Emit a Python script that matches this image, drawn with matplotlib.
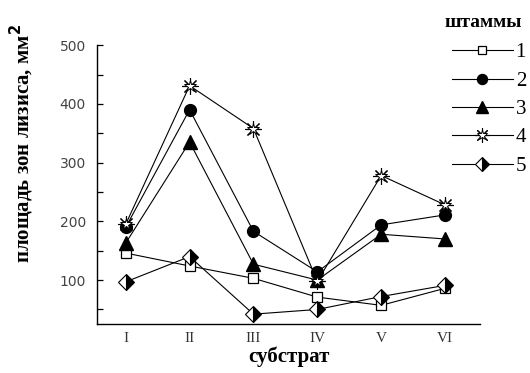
import matplotlib
matplotlib.use('Agg')
import matplotlib.pyplot as plt
from matplotlib.ticker import MultipleLocator
from matplotlib.legend_handler import HandlerTuple

substrates = ['I', 'II', 'III', 'IV', 'V', 'VI']
strains = ['1', '2', '3', '4', '5']

s1 = [146, 124, 103, 71, 57, 86]
s2 = [190, 390, 183, 114, 194, 211]
s3 = [163, 335, 127, 100, 178, 170]
s4 = [195, 431, 358, 98, 278, 228]
s5 = [97, 140, 42, 50, 72, 91]

x = list(range(1, len(substrates) + 1))

fig = plt.figure(figsize=(5.3, 3.73), dpi=100)
ax = fig.add_axes([0.183, 0.131, 0.723, 0.748])

lw = 0.8
h1, = ax.plot(x, s1, '-', color='black', lw=lw, marker='s', ms=7, mfc='white', mec='black', mew=0.9)
h2, = ax.plot(x, s2, '-', color='black', lw=lw, marker='o', ms=8.5, mfc='black', mec='black')
h3, = ax.plot(x, s3, '-', color='black', lw=lw, marker='^', ms=9.5, mfc='black', mec='black')
h4a, = ax.plot(x, s4, '-', color='black', lw=lw, marker=(8, 2, 0), ms=12, mec='black', mew=0.8)
h4b, = ax.plot(x, s4, ls='none', marker='*', ms=9, mfc='white', mec='black', mew=0.7)
h5, = ax.plot(x, s5, '-', color='black', lw=lw, marker='D', ms=8, fillstyle='right',
              mfc='black', mfcalt='white', mec='black', mew=0.8)

ax.set_xlim(0.55, 6.55)
ax.set_ylim(25, 500)
ax.set_xticks(x)
ax.set_xticklabels(substrates, family='Liberation Serif', fontsize=11, color='#333333')
ax.set_yticks([100, 200, 300, 400, 500])
ax.yaxis.set_minor_locator(MultipleLocator(50))
for lab in ax.get_yticklabels():
    lab.set_fontsize(10)
    lab.set_color('#444444')
ax.tick_params(axis='y', which='both', direction='in', length=4, width=0.9, pad=8)
ax.tick_params(axis='x', length=0, pad=6)
ax.spines['top'].set_visible(False)
ax.spines['right'].set_visible(False)
for sp in ('left', 'bottom'):
    ax.spines[sp].set_linewidth(1.0)

ax.set_xlabel('субстрат', family='Liberation Serif', fontweight='bold', fontsize=15, labelpad=1)
fig.text(0.042, 0.615, 'площадь зон лизиса, мм$^\\mathbf{2}$', rotation=90, ha='center', va='center',
         family='Liberation Serif', fontweight='bold', fontsize=15)

# legend: title placed on its own, entries below
fig.text(0.838, 0.94, 'штаммы', ha='left', va='center',
         family='Liberation Serif', fontweight='bold', fontsize=14)
leg = fig.legend([h1, h2, h3, (h4a, h4b), h5], strains,
                 handler_map={tuple: HandlerTuple(ndivide=1, pad=0)},
                 loc='upper left', bbox_to_anchor=(0.853, 0.885), frameon=False, borderpad=0,
                 borderaxespad=0, prop={'family': 'Liberation Serif', 'size': 15},
                 handlelength=2.9, handletextpad=0.15, labelspacing=0.42, markerscale=0.85)

fig.savefig('out.png', dpi=100)
